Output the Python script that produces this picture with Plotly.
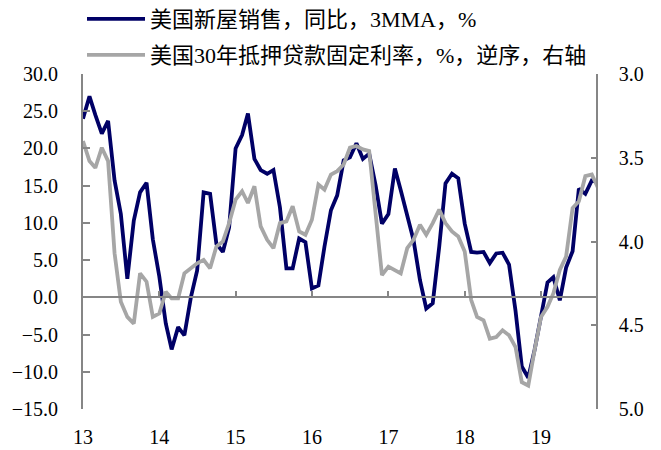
import pandas as pd
import plotly.graph_objects as go

# ---------------- data ----------------
months = pd.date_range("2013-01-01", periods=82, freq="MS")

new_home_sales_yoy = [
    24.0, 27.0, 24.5, 22.0, 23.7, 15.7, 11.2, 2.5, 10.3, 14.1, 15.4, 7.8,
    2.8, -3.5, -7.0, -4.0, -5.1, 0.0, 3.6, 14.1, 13.9, 7.2, 6.1, 9.4,
    20.0, 21.8, 24.7, 18.6, 17.1, 16.6, 17.1, 12.1, 3.9, 3.9, 7.9, 7.4,
    1.2, 1.6, 6.8, 11.7, 13.7, 18.4, 18.8, 20.7, 18.6, 19.3, 15.0, 9.9,
    11.2, 17.3, 14.4, 11.2, 7.7, 2.3, -1.5, -0.8, 6.8, 15.3, 16.6, 16.0,
    9.9, 6.1, 6.0, 6.1, 4.6, 5.9, 6.0, 4.4, -1.8, -9.3, -10.8, -7.1,
    -2.6, 2.0, 2.7, -0.4, 4.0, 6.2, 14.6, 13.9, 15.7, 15.5,
]

mortgage_rate_30y = [
    3.40, 3.52, 3.56, 3.44, 3.52, 4.07, 4.36, 4.45, 4.49, 4.19, 4.24, 4.45,
    4.43, 4.30, 4.34, 4.34, 4.19, 4.16, 4.13, 4.11, 4.16, 4.03, 4.00, 3.89,
    3.75, 3.70, 3.77, 3.67, 3.91, 3.99, 4.04, 3.89, 3.88, 3.79, 3.94, 3.96,
    3.87, 3.66, 3.69, 3.60, 3.58, 3.54, 3.44, 3.43, 3.45, 3.46, 3.85, 4.20,
    4.15, 4.17, 4.19, 4.04, 3.99, 3.90, 3.96, 3.89, 3.81, 3.89, 3.94, 3.97,
    4.06, 4.35, 4.45, 4.47, 4.58, 4.57, 4.53, 4.56, 4.63, 4.84, 4.86, 4.65,
    4.45, 4.39, 4.31, 4.17, 4.09, 3.80, 3.76, 3.61, 3.60, 3.68,
]

series_names = [
    "美国新屋销售，同比，3MMA，%",
    "美国30年抵押贷款固定利率，%，逆序，右轴",
]

left_ticks = [-15, -10, -5, 0, 5, 10, 15, 20, 25, 30]
right_ticks = [3.0, 3.5, 4.0, 4.5, 5.0]
year_ticks = pd.date_range("2013-01-01", "2019-01-01", freq="YS")
year_labels = ["13", "14", "15", "16", "17", "18", "19"]

x_range = ["2013-01-01", "2019-09-21"]
left_range = [-15, 30]
right_range = [5.0, 3.0]

# ---------------- style ----------------
NAVY = "#000066"
GRAY = "#A6A6A6"
AXIS = "#868686"
FONT = "Times New Roman, Liberation Serif, Noto Sans CJK SC, serif"

fig = go.Figure()
fig.add_trace(go.Scatter(
    x=months, y=new_home_sales_yoy, name=series_names[0], mode="lines",
    line=dict(color=NAVY, width=3.8), legend="legend",
))
fig.add_trace(go.Scatter(
    x=months, y=mortgage_rate_30y, name=series_names[1], mode="lines",
    line=dict(color=GRAY, width=3.8), yaxis="y2", legend="legend2",
))
# invisible helper traces so the helper axes (zero-crossing x axis,
# inside tick marks of the left axis) get drawn
fig.add_trace(go.Scatter(
    x=months, y=new_home_sales_yoy, xaxis="x2", mode="lines",
    line=dict(width=0), opacity=0, showlegend=False, hoverinfo="skip",
))
fig.add_trace(go.Scatter(
    x=months, y=new_home_sales_yoy, yaxis="y3", mode="lines",
    line=dict(width=0), opacity=0, showlegend=False, hoverinfo="skip",
))

zero_pos = (0 - left_range[0]) / (left_range[1] - left_range[0])

fig.update_layout(
    width=661, height=450,
    margin=dict(l=83, r=65, t=74, b=41, autoexpand=False),
    paper_bgcolor="white", plot_bgcolor="white",
    font=dict(family=FONT, size=20, color="black"),
    showlegend=True,
    xaxis=dict(
        range=x_range, anchor="y", tickvals=year_ticks, ticktext=year_labels,
        showline=False, ticks="", showgrid=False, zeroline=False,
        ticklabelstandoff=14, tickangle=0,
    ),
    xaxis2=dict(
        matches="x", overlaying="x", anchor="free", position=zero_pos,
        showline=True, linecolor=AXIS, linewidth=1.5,
        ticks="inside", ticklen=6, tickcolor=AXIS, tickwidth=1.5,
        tickvals=year_ticks, showticklabels=False, showgrid=False, zeroline=False,
    ),
    yaxis=dict(
        range=left_range, tickvals=left_ticks, tickformat=".1f",
        showline=False, ticks="outside", ticklen=20,
        tickcolor="rgba(0,0,0,0)", showgrid=False, zeroline=False,
    ),
    yaxis3=dict(
        matches="y", overlaying="y", side="left", anchor="x",
        tickvals=left_ticks, showticklabels=False,
        showline=True, linecolor=AXIS, linewidth=1.5,
        ticks="inside", ticklen=7, tickcolor=AXIS, tickwidth=1.5,
        showgrid=False, zeroline=False,
    ),
    yaxis2=dict(
        range=right_range, overlaying="y", side="right", anchor="x",
        tickvals=right_ticks, tickformat=".1f",
        showline=True, linecolor=AXIS, linewidth=1.5,
        ticks="inside", ticklen=5, tickcolor=AXIS, tickwidth=1.5,
        showgrid=False, zeroline=False, ticklabelstandoff=17,
    ),
    legend=dict(
        xref="container", yref="container", x=82 / 661, y=1 - 19 / 450,
        xanchor="left", yanchor="middle", bgcolor="rgba(0,0,0,0)",
        font=dict(size=22), itemwidth=58,
    ),
    legend2=dict(
        xref="container", yref="container", x=82 / 661, y=1 - 55 / 450,
        xanchor="left", yanchor="middle", bgcolor="rgba(0,0,0,0)",
        font=dict(size=22), itemwidth=58,
    ),
)

fig.write_html(
    "out.html",
    config={"displayModeBar": False},
    post_script="document.body.style.margin='0';document.body.style.overflow='hidden';",
)
